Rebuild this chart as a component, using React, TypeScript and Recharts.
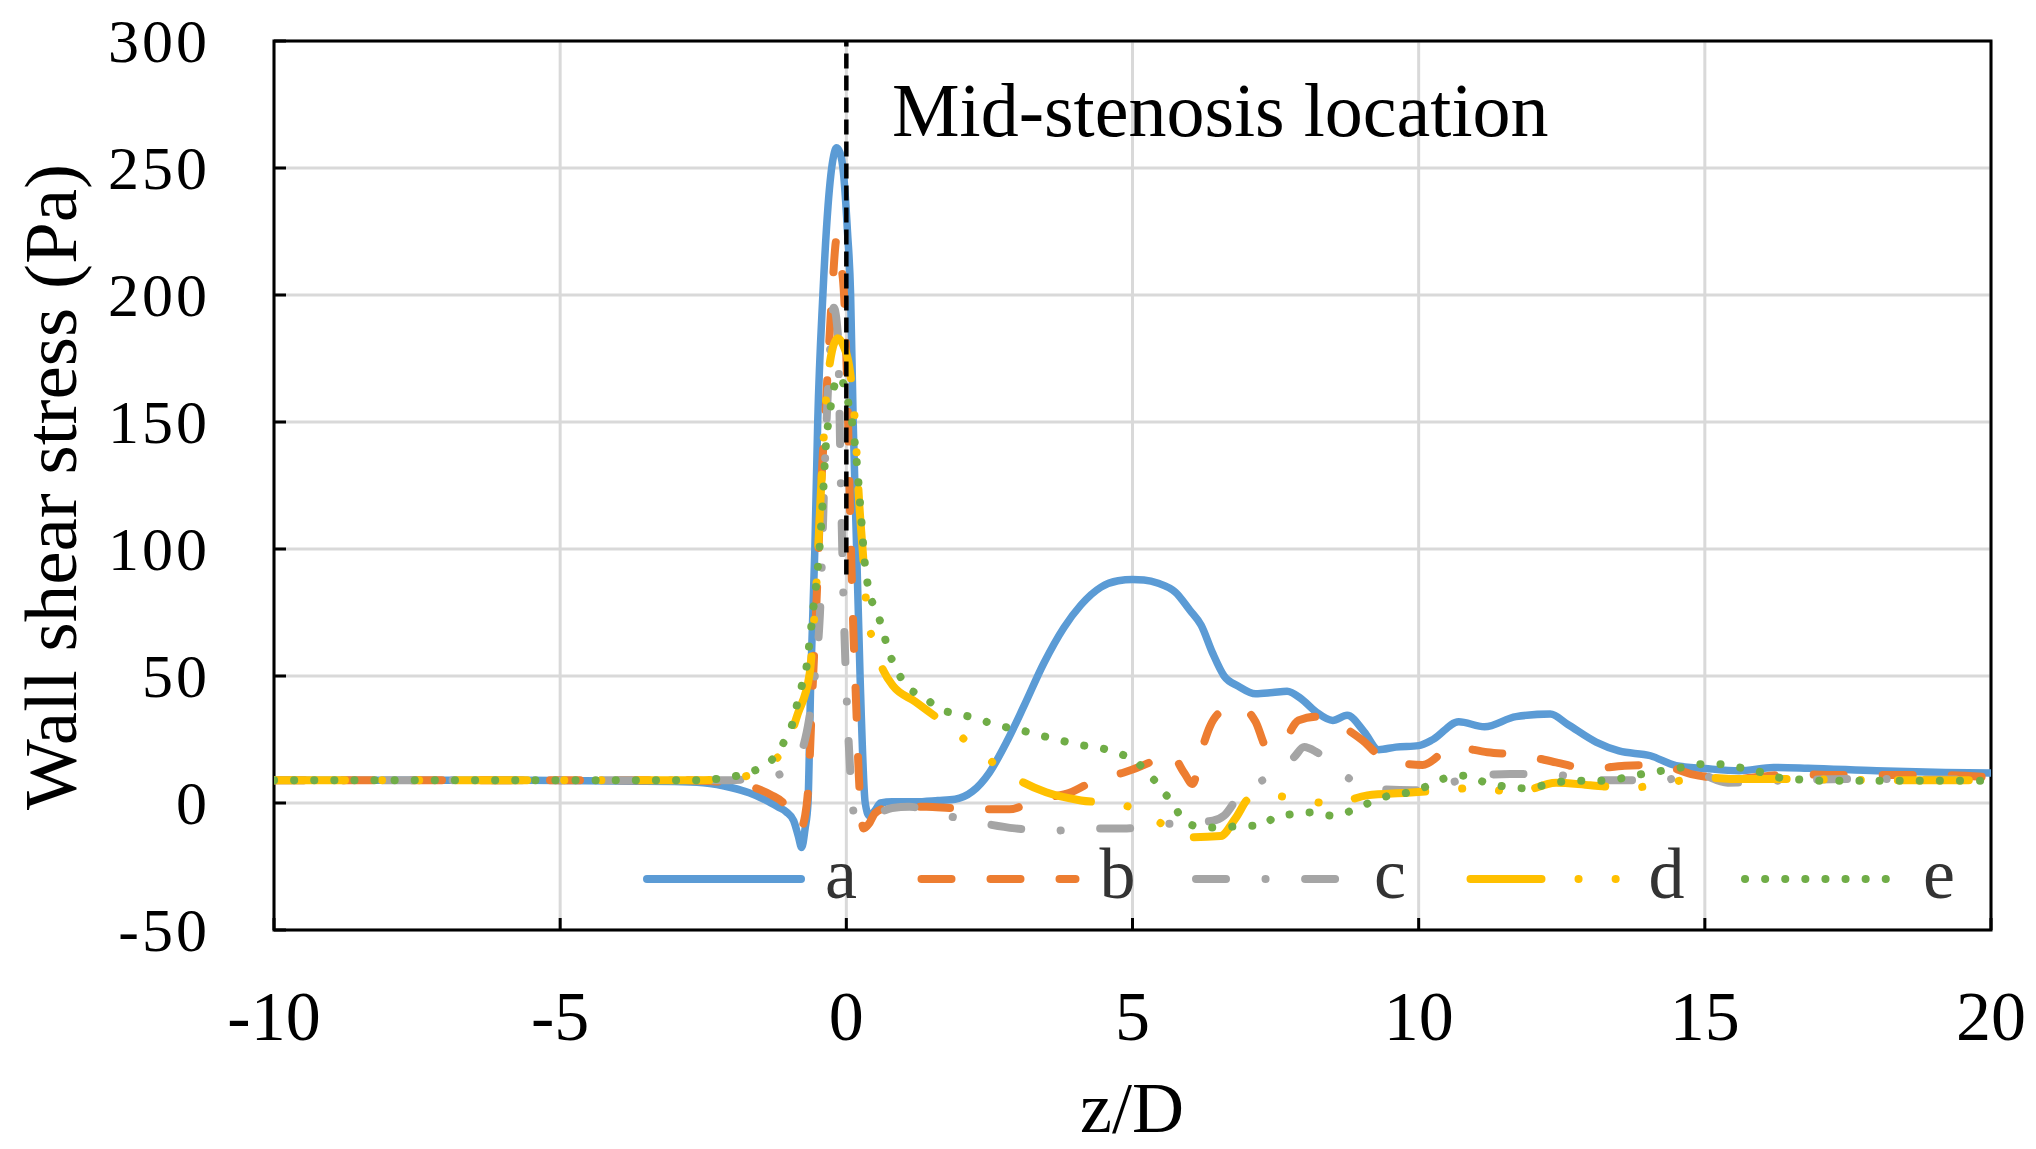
import React from 'react';
import { LineChart, Line, XAxis, YAxis, CartesianGrid, ReferenceLine, ReferenceArea, Legend } from 'recharts';

// ---------- data ----------
const xTicks = [-10, -5, 0, 5, 10, 15, 20];
const yTicks = [-50, 0, 50, 100, 150, 200, 250, 300];

const aZ = [-10, -6, -3, -2.5, -2, -1.7, -1.4, -1.2, -1.05, -0.92, -0.84, -0.78, -0.72, -0.67, -0.62, -0.55, -0.5, -0.41, -0.32, -0.22, -0.17, -0.11, -0.05, 0.02, 0.075, 0.12, 0.18, 0.24, 0.33, 0.4, 0.5, 0.6, 0.8, 1.2, 1.6, 1.9, 2.2, 2.5, 2.8, 3.1, 3.45, 3.8, 4.1, 4.45, 4.75, 5.0, 5.2, 5.45, 5.75, 6.0, 6.2, 6.4, 6.6, 6.85, 7.15, 7.45, 7.7, 7.95, 8.2, 8.5, 8.75, 9.05, 9.3, 9.6, 10.0, 10.25, 10.7, 11.15, 11.7, 12.3, 12.6, 13.1, 13.5, 14.05, 14.5, 15, 15.6, 16.2, 16.8, 18, 19.2, 20];
const aV = [9, 9, 8.5, 8, 6, 4, 1, -1.5, -3.5, -7, -13, -17.5, -10, 0, 50, 100, 150, 200, 235, 255, 258, 256, 248, 225, 200, 150, 100, 50, 0, -5, -3, 0, 0.5, 0.5, 1, 1.5, 4.5, 12, 24, 38, 55, 69, 78, 85, 87.5, 88, 87.8, 86.5, 83, 76, 70, 59, 50, 46, 43, 43.5, 44, 41, 36, 32.5, 34.5, 28, 21, 22, 22.6, 25, 32, 30, 34, 35, 31, 24, 20.5, 18.6, 14.7, 13.6, 12.7, 14, 13.7, 12.7, 12, 11.8];

const bZ = [-10, -3, -2, -1.6, -1.3, -1.1, -0.95, -0.87, -0.8, -0.72, -0.66, -0.6, -0.52, -0.45, -0.35, -0.25, -0.17, -0.1, -0.04, 0.02, 0.07, 0.12, 0.17, 0.22, 0.3, 0.4, 0.5, 0.7, 1.0, 1.4, 1.8, 2.3, 2.85, 3.2, 3.5, 3.9, 4.4, 4.85, 5.3, 5.65, 5.9, 6.05, 6.2, 6.35, 6.55, 6.88, 7.15, 7.35, 7.55, 7.9, 8.2, 8.5, 9.0, 9.43, 10.07, 10.6, 11.2, 11.85, 12.4, 13.0, 13.6, 14.2, 14.76, 15.5, 16.5, 17.5, 18.5, 19.2, 20];
const bV = [9, 9, 8, 6, 3, 0, -5, -9.5, -10, -5, 8, 40, 80, 120, 160, 200, 222, 213, 200, 160, 110, 70, 40, 10, -10, -8, -4, -2, -1.5, -1.5, -2, -2.5, -2.5, 0, 2, 4, 9.5, 12, 16, 20, 12, 7.5, 20, 30, 36, 38, 32, 22, 22, 32.5, 34, 32, 25, 17, 15, 22, 20, 18.6, 16, 13.4, 14.7, 15, 11.4, 9.5, 11.3, 11, 11, 11, 10];

const cZ = [-10, -2, -1.7, -1.4, -1.1, -0.9, -0.77, -0.65, -0.55, -0.45, -0.38, -0.3, -0.22, -0.15, -0.1, -0.05, 0.0, 0.05, 0.1, 0.15, 0.25, 0.45, 0.8, 1.1, 1.7, 2.3, 2.95, 3.55, 4.2, 4.9, 5.45, 6.05, 6.4, 6.6, 6.88, 7.35, 7.82, 8.0, 8.22, 8.69, 9.3, 9.9, 10.47, 11.1, 11.6, 12.3, 13.0, 13.6, 14.2, 14.8, 15.4, 16.5, 18, 20];
const cV = [9, 9, 9.5, 10, 12, 16, 21, 33, 50, 80, 130, 172, 195, 185, 130, 80, 45, 20, 2, -6, -6, -5, -2, -1.5, -4.7, -7.6, -10, -11, -10, -10, -8.5, -7.6, -7, -5, 3.5, 10, 18, 22, 20, 11, 5.5, 5, 7.5, 11, 11.4, 11.4, 9, 9, 8.4, 12, 8, 9, 9.5, 9];

const dZ = [-10, -2.5, -2.1, -1.45, -1.2, -1.02, -0.85, -0.64, -0.58, -0.53, -0.45, -0.35, -0.25, -0.15, -0.05, 0.05, 0.15, 0.22, 0.3, 0.36, 0.45, 0.53, 0.65, 0.82, 1.2, 1.5, 1.85, 2.33, 2.88, 3.49, 4.1, 4.77, 5.37, 5.97, 6.54, 6.8, 7.05, 7.35, 7.92, 8.49, 9.1, 9.8, 10.4, 11.07, 11.7, 12.4, 13.0, 13.7, 14.35, 15, 15.5, 16.5, 18, 20];
const dV = [9, 9, 9.4, 13, 18, 24, 35, 51, 67, 83, 120, 160, 178, 183, 180, 172, 150, 120, 95, 75, 65, 59, 52, 46, 40, 35, 29, 20, 10.8, 4.2, 1, -0.4, -6.3, -13.5, -13, -6, 2, 3, 1.6, -0.4, 3, 4, 5, 6, 4, 8, 7, 6, 8, 10, 9.4, 9.4, 9, 9];

const eZ = [-10, -2.5, -2.3, -2.0, -1.62, -1.3, -1.1, -0.95, -0.87, -0.78, -0.7, -0.65, -0.58, -0.5, -0.42, -0.36, -0.28, -0.2, -0.12, -0.05, 0.03, 0.1, 0.17, 0.25, 0.32, 0.4, 0.52, 0.64, 0.72, 0.87, 1.05, 1.34, 1.63, 1.98, 2.31, 2.65, 2.99, 3.32, 3.69, 4.03, 4.36, 4.7, 5.03, 5.27, 5.5, 5.7, 5.9, 6.24, 6.58, 6.9, 7.25, 7.48, 7.82, 8.15, 8.49, 8.83, 9.16, 9.5, 9.83, 10.17, 10.5, 10.84, 11.17, 11.5, 11.85, 12.2, 12.5, 12.9, 13.2, 13.57, 13.9, 14.25, 14.6, 14.95, 15.3, 15.6, 16, 16.3, 16.67, 17, 18, 19, 20];
const eV = [9, 9, 9.4, 10.3, 12.6, 17, 23.6, 30.7, 38, 46, 53, 62, 76, 92, 116, 140, 155, 165, 168, 165, 158, 150, 137, 115, 95, 83, 76, 68, 61, 53, 46, 42, 37, 35, 33, 30.5, 29, 27, 25, 23, 22, 20, 16.7, 12, 5.5, 0, -7, -9.6, -9.6, -9, -9, -5.7, -4.3, -3.7, -5, -3, 0.3, 3, 4.2, 6.8, 10, 10.8, 8, 6.5, 5.8, 7, 8.4, 8.8, 8.8, 9.8, 11.4, 12.7, 14, 15.3, 15.3, 14, 12, 10, 9.2, 8.8, 8.8, 8.8, 8.8];

const seriesNames = ['a', 'b', 'c', 'd', 'e'];
const seriesColors = ['#5B9BD5', '#ED7D31', '#A5A5A5', '#FFC000', '#70AD47'];
const seriesDash = ['', '30 39', '30 39.5 0.1 39.5', '71 37 0.1 37 0.1 37', '0.1 20'];

const toPts = (zs: number[], vs: number[]) => zs.map((z, i) => ({ z, v: vs[i] }));
const seriesData = [toPts(aZ, aV), toPts(bZ, bV), toPts(cZ, cV), toPts(dZ, dV), toPts(eZ, eV)];

// ---------- layout ----------
const W = 2020;
const H = 1133;
const FONT = '"Liberation Serif", "Times New Roman", serif';

const XTick = (props: any) => {
  const { x, y, payload } = props;
  return (
    <text x={x} y={y} textAnchor="middle" dy="0.72em" fontFamily={FONT} fontSize={70} fill="#000">
      {payload.value}
    </text>
  );
};

const YTick = (props: any) => {
  const { x, y, payload } = props;
  return (
    <text x={x} y={y} textAnchor="end" dy="0.34em" fontFamily={FONT} fontSize={62} fill="#000" letterSpacing={3}>
      {payload.value}
    </text>
  );
};

const LegendContent = () => (
  <svg width={1340} height={90} style={{ overflow: 'visible' }}>
    {seriesNames.map((n, i) => {
      const x0 = 3 + i * 274.5;
      return (
        <g key={n}>
          <line
            x1={x0 + 4}
            x2={x0 + 158}
            y1={39}
            y2={39}
            stroke={seriesColors[i]}
            strokeWidth={8}
            strokeLinecap="round"
            strokeDasharray={seriesDash[i] || undefined}
          />
          <text x={x0 + 182} y={58} fontFamily={FONT} fontSize={72} fill="#333">
            {n}
          </text>
        </g>
      );
    })}
  </svg>
);

export default function App() {
  return (
    <div style={{ position: 'relative', width: W, height: H }}>
      <LineChart width={W} height={H} margin={{ top: 33, right: 37, bottom: 0, left: 0 }}>
        <CartesianGrid stroke="#D9D9D9" strokeWidth={3} />
        <XAxis
          dataKey="z"
          type="number"
          domain={[-10, 20]}
          ticks={xTicks}
          allowDataOverflow
          height={211}
          axisLine={false}
          tickLine={{ stroke: '#000', strokeWidth: 3 }}
          tickSize={-12}
          tickMargin={72}
          tick={<XTick />}
          interval={0}
        />
        <YAxis
          dataKey="v"
          type="number"
          domain={[-50, 300]}
          ticks={yTicks}
          allowDataOverflow
          width={266}
          axisLine={false}
          tickLine={{ stroke: '#000', strokeWidth: 3 }}
          tickSize={-12}
          tickMargin={76}
          tick={<YTick />}
          interval={0}
        />
        {seriesData.map((d, i) => (
          <Line
            key={seriesNames[i]}
            data={d}
            dataKey="v"
            name={seriesNames[i]}
            type="monotone"
            stroke={seriesColors[i]}
            strokeWidth={i === 0 ? 7.5 : 8}
            strokeDasharray={seriesDash[i] || undefined}
            strokeLinecap="round"
            strokeLinejoin="round"
            dot={false}
            activeDot={false}
            isAnimationActive={false}
          />
        ))}
        <ReferenceLine
          segment={[{ x: 0, y: 90 }, { x: 0, y: 300 }]}
          stroke="#000"
          strokeWidth={4.5}
          strokeDasharray="15 7"
          ifOverflow="visible"
        />
        <ReferenceArea
          x1={-10}
          x2={20}
          y1={-50}
          y2={300}
          fill="none"
          fillOpacity={0}
          stroke="#000"
          strokeWidth={3}
          ifOverflow="visible"
        />
        <Legend
          layout="horizontal"
          verticalAlign="middle"
          align="center"
          content={<LegendContent />}
          wrapperStyle={{ position: 'absolute', left: 632, top: 832, width: 1340, height: 90 }}
        />
      </LineChart>
      <svg
        width={W}
        height={H}
        style={{ position: 'absolute', left: 0, top: 0, pointerEvents: 'none', overflow: 'visible' }}
      >
        <text x={884} y={128} fontFamily={FONT} fontSize={76} fill="#000">
          Mid-stenosis location
        </text>
        <text
          transform="translate(68, 479) rotate(-90)"
          textAnchor="middle"
          fontFamily={FONT}
          fontSize={75}
          fill="#000"
        >
          Wall shear stress (Pa)
        </text>
        <text x={1124} y={1124} textAnchor="middle" fontFamily={FONT} fontSize={72} fill="#000">
          z/D
        </text>
      </svg>
    </div>
  );
}
